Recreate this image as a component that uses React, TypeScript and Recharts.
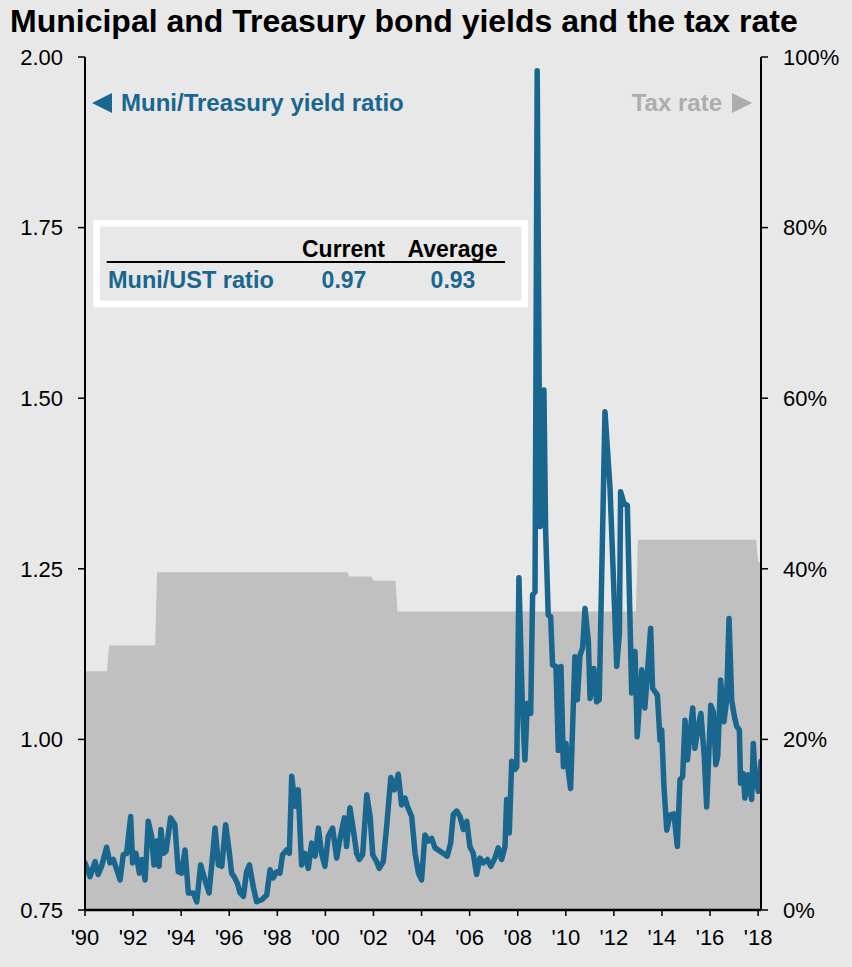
import React from 'react';
import { ComposedChart, Area, Line, XAxis, YAxis } from 'recharts';

const ratioYears = [
  1990.00, 1990.21, 1990.42, 1990.55, 1990.69, 1990.90, 1991.04, 1991.18, 1991.46, 1991.59,
  1991.73, 1991.90, 1991.98, 1992.12, 1992.26, 1992.36, 1992.50, 1992.63, 1992.77, 1992.87,
  1992.98, 1993.08, 1993.16, 1993.26, 1993.37, 1993.56, 1993.74, 1993.88, 1994.02, 1994.16,
  1994.30, 1994.51, 1994.65, 1994.81, 1994.99, 1995.16, 1995.30, 1995.41, 1995.55, 1995.69,
  1995.85, 1995.99, 1996.10, 1996.20, 1996.34, 1996.45, 1996.59, 1996.72, 1996.84, 1997.00,
  1997.14, 1997.35, 1997.56, 1997.70, 1997.83, 1997.97, 1998.11, 1998.22, 1998.39, 1998.50,
  1998.60, 1998.74, 1998.87, 1999.01, 1999.15, 1999.29, 1999.43, 1999.57, 1999.71, 1999.84,
  1999.98, 2000.12, 2000.30, 2000.47, 2000.61, 2000.79, 2000.88, 2001.02, 2001.16, 2001.30,
  2001.41, 2001.55, 2001.72, 2001.86, 2001.97, 2002.13, 2002.24, 2002.41, 2002.55, 2002.72,
  2002.87, 2003.03, 2003.17, 2003.31, 2003.41, 2003.59, 2003.73, 2003.87, 2004.00, 2004.14,
  2004.28, 2004.42, 2004.56, 2004.77, 2004.98, 2005.07, 2005.21, 2005.32, 2005.46, 2005.60,
  2005.74, 2005.88, 2006.01, 2006.15, 2006.29, 2006.43, 2006.57, 2006.74, 2006.88, 2007.05,
  2007.19, 2007.33, 2007.47, 2007.54, 2007.65, 2007.75, 2007.89, 2007.96, 2008.05, 2008.19,
  2008.30, 2008.40, 2008.54, 2008.62, 2008.72, 2008.81, 2008.93, 2009.00, 2009.09, 2009.16,
  2009.27, 2009.37, 2009.45, 2009.59, 2009.69, 2009.80, 2009.90, 2010.01, 2010.10, 2010.20,
  2010.38, 2010.48, 2010.59, 2010.70, 2010.80, 2010.94, 2011.01, 2011.17, 2011.28, 2011.39,
  2011.63, 2011.84, 2012.12, 2012.23, 2012.28, 2012.42, 2012.56, 2012.74, 2012.88, 2012.97,
  2013.16, 2013.29, 2013.53, 2013.61, 2013.81, 2013.92, 2013.99, 2014.08, 2014.20, 2014.33,
  2014.50, 2014.64, 2014.75, 2014.86, 2014.96, 2015.06, 2015.17, 2015.28, 2015.37, 2015.51,
  2015.62, 2015.76, 2015.86, 2016.03, 2016.14, 2016.24, 2016.32, 2016.44, 2016.58, 2016.69,
  2016.79, 2016.90, 2017.00, 2017.11, 2017.22, 2017.27, 2017.38, 2017.45, 2017.59, 2017.73,
  2017.80, 2017.87, 2018.01, 2018.12,
];

const ratioValues = [
  0.819, 0.799, 0.821, 0.802, 0.814, 0.842, 0.819, 0.824, 0.794, 0.831,
  0.833, 0.887, 0.819, 0.833, 0.804, 0.824, 0.794, 0.880, 0.858, 0.816,
  0.851, 0.814, 0.868, 0.833, 0.836, 0.885, 0.875, 0.806, 0.804, 0.838,
  0.775, 0.775, 0.762, 0.816, 0.794, 0.775, 0.826, 0.870, 0.816, 0.814,
  0.875, 0.838, 0.804, 0.799, 0.789, 0.775, 0.770, 0.806, 0.816, 0.784,
  0.762, 0.765, 0.772, 0.809, 0.797, 0.806, 0.804, 0.831, 0.838, 0.833,
  0.946, 0.902, 0.926, 0.816, 0.833, 0.811, 0.848, 0.829, 0.870, 0.833,
  0.814, 0.858, 0.870, 0.826, 0.855, 0.885, 0.843, 0.900, 0.868, 0.833,
  0.824, 0.831, 0.919, 0.887, 0.831, 0.821, 0.811, 0.821, 0.873, 0.944,
  0.926, 0.949, 0.904, 0.914, 0.902, 0.887, 0.833, 0.804, 0.794, 0.860,
  0.851, 0.855, 0.841, 0.836, 0.831, 0.829, 0.848, 0.890, 0.895, 0.887,
  0.868, 0.880, 0.843, 0.833, 0.802, 0.826, 0.819, 0.824, 0.814, 0.826,
  0.841, 0.824, 0.843, 0.912, 0.863, 0.968, 0.956, 0.960, 1.237, 1.053,
  0.970, 1.053, 1.038, 1.212, 1.216, 1.980, 1.312, 1.317, 1.512, 1.307,
  1.182, 1.180, 1.109, 1.107, 0.984, 1.107, 0.960, 0.994, 0.955, 0.928,
  1.121, 1.058, 1.123, 1.134, 1.192, 1.143, 1.060, 1.104, 1.055, 1.058,
  1.480, 1.368, 1.107, 1.155, 1.363, 1.346, 1.343, 1.068, 1.129, 1.004,
  1.102, 1.046, 1.163, 1.075, 1.065, 0.999, 1.014, 0.933, 0.867, 0.889,
  0.891, 0.843, 0.941, 0.945, 1.028, 0.970, 1.009, 1.046, 0.987, 1.019,
  1.038, 0.975, 0.901, 1.050, 1.040, 0.963, 0.975, 1.087, 1.026, 1.058,
  1.177, 1.058, 1.036, 1.019, 1.014, 0.936, 0.950, 0.914, 0.948, 0.912,
  0.994, 0.945, 0.924, 0.968,
];

const taxYears = [
  1990, 1991, 1992, 1993, 1994, 1995, 1996, 1997, 1998, 1999,
  2000, 2001, 2002, 2003, 2004, 2005, 2006, 2007, 2008, 2009,
  2010, 2011, 2012, 2013, 2014, 2015, 2016, 2017, 2018,
];
const taxRates = [
  28, 31, 31, 39.6, 39.6, 39.6, 39.6, 39.6, 39.6, 39.6,
  39.6, 39.1, 38.6, 35, 35, 35, 35, 35, 35, 35,
  35, 35, 35, 43.4, 43.4, 43.4, 43.4, 43.4, 40.8,
];

const xTicks = [1990, 1992, 1994, 1996, 1998, 2000, 2002, 2004, 2006, 2008, 2010, 2012, 2014, 2016, 2018];
const leftTicks = [0.75, 1.0, 1.25, 1.5, 1.75, 2.0];
const rightTicks = [0, 20, 40, 60, 80, 100];

const X_END = 2018.12;
const BG = '#e8e8e8';
const BLUE = '#19668f';
const AREA = '#c0c0c0';
const GREYTXT = '#adadad';
const FONT = "'Liberation Sans', Arial, Helvetica, sans-serif";

const ratioData = ratioYears.map((x, i) => ({ x, ratio: ratioValues[i] }));
const taxData = taxYears.flatMap((y, i) => {
  const r = taxRates[i];
  const end = i === taxYears.length - 1 ? X_END : y + 11 / 12;
  return [
    { x: y, tax: r },
    { x: end, tax: r },
  ];
});

const tickStyle = { fontSize: 22, fill: '#000', fontFamily: FONT };

export default function App() {
  return (
    <div style={{ position: 'absolute', left: 0, top: 0, width: 852, height: 967, background: BG, overflow: 'hidden' }}>
      <ComposedChart width={852} height={967} margin={{ top: 57, right: 0, bottom: 0, left: 0 }}>
        <XAxis
          dataKey="x"
          type="number"
          domain={[1990, X_END]}
          ticks={xTicks}
          allowDataOverflow
          height={57}
          tickFormatter={(v: number) => "'" + String(v).slice(2)}
          tick={tickStyle}
          tickSize={6}
          tickMargin={13}
          axisLine={{ stroke: '#000', strokeWidth: 2.5 }}
          tickLine={{ stroke: '#000', strokeWidth: 1.5 }}
          interval={0}
        />
        <YAxis
          yAxisId="left"
          orientation="left"
          width={85}
          domain={[0.75, 2.0]}
          ticks={leftTicks}
          allowDataOverflow
          tickFormatter={(v: number) => v.toFixed(2)}
          tick={tickStyle}
          tickSize={7}
          tickMargin={15}
          axisLine={{ stroke: '#000', strokeWidth: 2 }}
          tickLine={{ stroke: '#000', strokeWidth: 1.5 }}
          interval={0}
        />
        <YAxis
          yAxisId="right"
          orientation="right"
          width={91}
          domain={[0, 100]}
          ticks={rightTicks}
          allowDataOverflow
          tickFormatter={(v: number) => v + '%'}
          tick={tickStyle}
          tickSize={7}
          tickMargin={15}
          axisLine={{ stroke: '#000', strokeWidth: 2 }}
          tickLine={{ stroke: '#000', strokeWidth: 1.5 }}
          interval={0}
        />
        <Area
          yAxisId="right"
          data={taxData}
          dataKey="tax"
          type="linear"
          stroke="none"
          fill={AREA}
          fillOpacity={1}
          isAnimationActive={false}
          dot={false}
          activeDot={false}
        />
        <Line
          yAxisId="left"
          data={ratioData}
          dataKey="ratio"
          type="linear"
          stroke={BLUE}
          strokeWidth={5.5}
          strokeLinejoin="round"
          strokeLinecap="round"
          dot={false}
          activeDot={false}
          isAnimationActive={false}
        />
      </ComposedChart>
      <svg
        width={852}
        height={967}
        style={{ position: 'absolute', left: 0, top: 0, pointerEvents: 'none' }}
        fontFamily={FONT}
      >
        <text x={10} y={32} fontSize={32} fontWeight="bold" fill="#000">
          Municipal and Treasury bond yields and the tax rate
        </text>
        <polygon points="92,103 112,93 112,113" fill={BLUE} />
        <text x={121} y={111} fontSize={24} fontWeight="bold" fill={BLUE}>
          Muni/Treasury yield ratio
        </text>
        <text x={722} y={111} fontSize={24} fontWeight="bold" fill={GREYTXT} textAnchor="end">
          Tax rate
        </text>
        <polygon points="732,93 752,103 732,113" fill={GREYTXT} />
        <rect x={96.7} y={223.3} width={428} height={80.7} fill={BG} stroke="#fff" strokeWidth={6.7} />
        <line x1={106.7} y1={262} x2={505} y2={262} stroke="#000" strokeWidth={2} />
        <text x={343.5} y={256.7} fontSize={23} fontWeight="bold" fill="#000" textAnchor="middle">
          Current
        </text>
        <text x={452.5} y={256.7} fontSize={23} fontWeight="bold" fill="#000" textAnchor="middle">
          Average
        </text>
        <text x={108} y={287.7} fontSize={23.5} fontWeight="bold" fill={BLUE}>
          Muni/UST ratio
        </text>
        <text x={344} y={287.7} fontSize={23} fontWeight="bold" fill={BLUE} textAnchor="middle">
          0.97
        </text>
        <text x={453} y={287.7} fontSize={23} fontWeight="bold" fill={BLUE} textAnchor="middle">
          0.93
        </text>
      </svg>
    </div>
  );
}
